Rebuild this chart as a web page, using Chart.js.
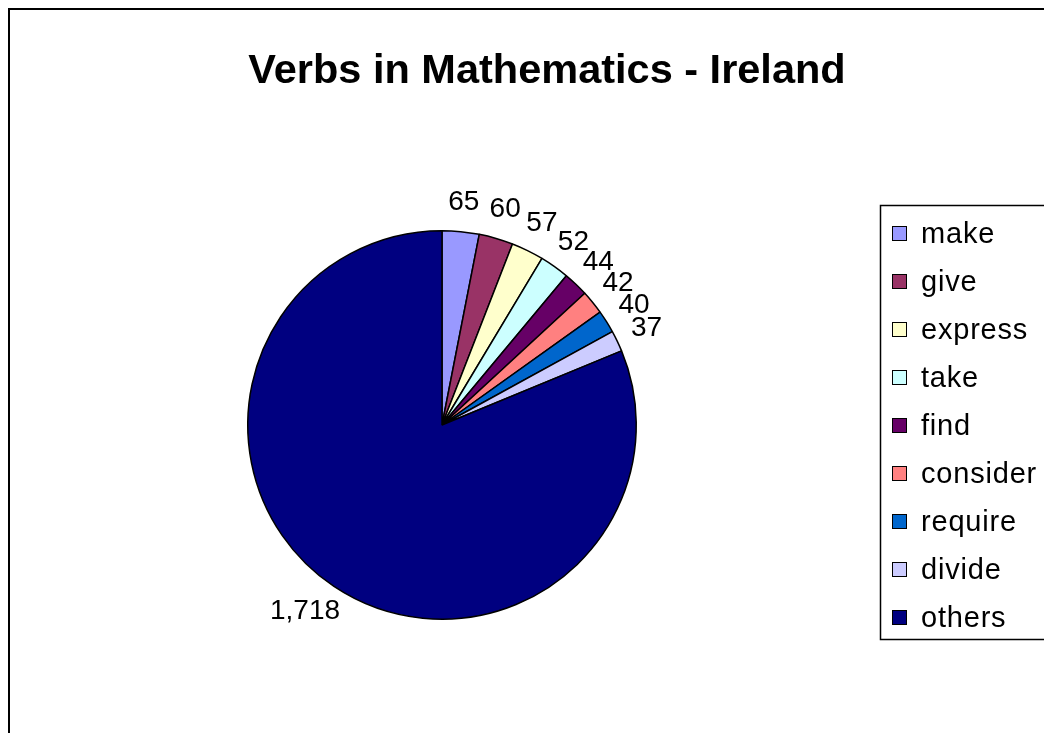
<!DOCTYPE html>
<html>
<head>
<meta charset="utf-8">
<script src="https://cdn.jsdelivr.net/npm/chart.js@4/dist/chart.umd.min.js"></script>
<style>
  html, body { margin: 0; padding: 0; background: #fff; overflow: hidden; }
  #wrap { width: 1044px; height: 733px; position: relative; }
</style>
</head>
<body>
<div id="wrap"><canvas id="verbChart" width="1044" height="733"></canvas></div>
<script>
var verbs = ['make', 'give', 'express', 'take', 'find', 'consider', 'require', 'divide', 'others'];
var counts = [65, 60, 57, 52, 44, 42, 40, 37, 1718];
var sliceColors = ['#9999FF', '#993366', '#FFFFCC', '#CCFFFF', '#660066', '#FF8080', '#0066CC', '#CCCCFF', '#000080'];
var chartTitle = 'Verbs in Mathematics - Ireland';

var FONT = 'Arial, "Liberation Sans", sans-serif';

// frame, title, value labels and the boxed legend
var excelLook = {
  id: 'excelLook',
  afterDraw: function(chart) {
    var ctx = chart.ctx;
    ctx.save();

    // outer frame (runs off the right and bottom edge)
    ctx.strokeStyle = '#000';
    ctx.lineWidth = 2;
    ctx.strokeRect(9, 9, 1200, 900);

    // title
    ctx.fillStyle = '#000';
    ctx.font = 'bold 41.5px ' + FONT;
    ctx.textAlign = 'center';
    ctx.textBaseline = 'alphabetic';
    ctx.fillText(chartTitle, 547, 83);

    // value labels outside each slice
    ctx.font = '28px ' + FONT;
    ctx.textBaseline = 'middle';
    var meta = chart.getDatasetMeta(0);
    meta.data.forEach(function(arc, i) {
      var p = arc.getProps(['x', 'y', 'startAngle', 'endAngle', 'outerRadius'], true);
      var mid = (p.startAngle + p.endAngle) / 2;
      var ux = Math.cos(mid), uy = Math.sin(mid);
      var txt = counts[i].toLocaleString('en-US');
      var w = ctx.measureText(txt).width;
      var r = p.outerRadius + 17;
      var cx = p.x + ux * r + ux * w / 2;
      var cy = p.y + uy * r + uy * 13;
      ctx.fillText(txt, cx, cy);
    });

    // legend box
    ctx.lineWidth = 1.5;
    ctx.strokeRect(880.5, 205.5, 300, 434);
    ctx.textAlign = 'left';
    ctx.textBaseline = 'alphabetic';
    ctx.font = '29px ' + FONT;
    ctx.letterSpacing = '0.8px';
    verbs.forEach(function(v, i) {
      var y = 243 + i * 48;
      ctx.fillStyle = sliceColors[i];
      ctx.fillRect(892, y - 17, 15, 15);
      ctx.lineWidth = 1;
      ctx.strokeStyle = '#000';
      ctx.strokeRect(892.5, y - 16.5, 14, 14);
      ctx.fillStyle = '#000';
      ctx.fillText(v, 921, y);
    });

    ctx.restore();
  }
};

var ctx = document.getElementById('verbChart').getContext('2d');
var chart = new Chart(ctx, {
    type: 'pie',
    data: {
        labels: verbs,
        datasets: [{
            data: counts,
            backgroundColor: sliceColors,
            borderColor: '#000',
            borderWidth: 1.5
        }]
    },
    options: {
      responsive: false,
      animation: false,
      layout: {
        padding: { left: 247, right: 407, top: 230, bottom: 113 }
      },
      plugins: {
        legend: { display: false },
        title: { display: false },
        tooltip: { enabled: false }
      }
    },
    plugins: [excelLook]
});
</script>
</body>
</html>
